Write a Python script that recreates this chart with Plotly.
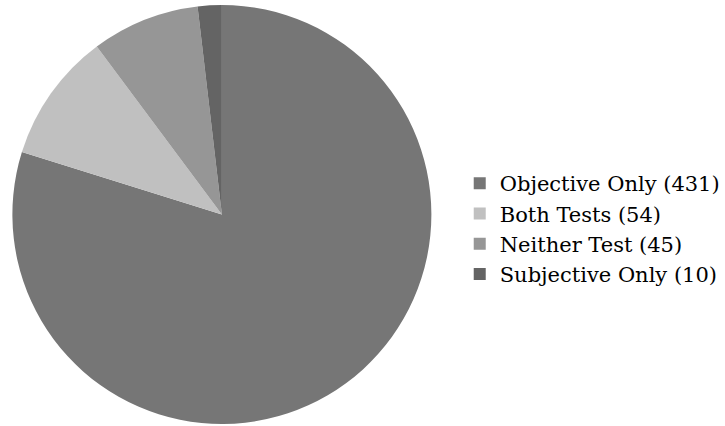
import plotly.graph_objects as go

# Test outcome groups and their counts
categories = ["Objective Only", "Both Tests", "Neither Test", "Subjective Only"]
counts = [431, 54, 45, 10]
colors = ["#767676", "#c0c0c0", "#969696", "#646464"]

labels = [f"{c} ({n})" for c, n in zip(categories, counts)]

fig = go.Figure(
    go.Pie(
        labels=labels,
        values=counts,
        sort=False,
        direction="clockwise",
        rotation=0,
        textinfo="none",
        hoverinfo="label+percent",
        marker=dict(colors=colors, line=dict(width=0)),
        domain=dict(x=[12 / 725, 433 / 725], y=[2 / 426, 421 / 426]),
    )
)

fig.update_layout(
    width=725,
    height=426,
    margin=dict(l=0, r=0, t=0, b=0),
    paper_bgcolor="white",
    plot_bgcolor="white",
    showlegend=True,
    legend=dict(
        x=461 / 725,
        y=1 - 229 / 426,
        xanchor="left",
        yanchor="middle",
        font=dict(family="DejaVu Serif", size=21, color="black"),
        bgcolor="rgba(0,0,0,0)",
        itemwidth=30,
    ),
)

fig.write_html("out.html")
